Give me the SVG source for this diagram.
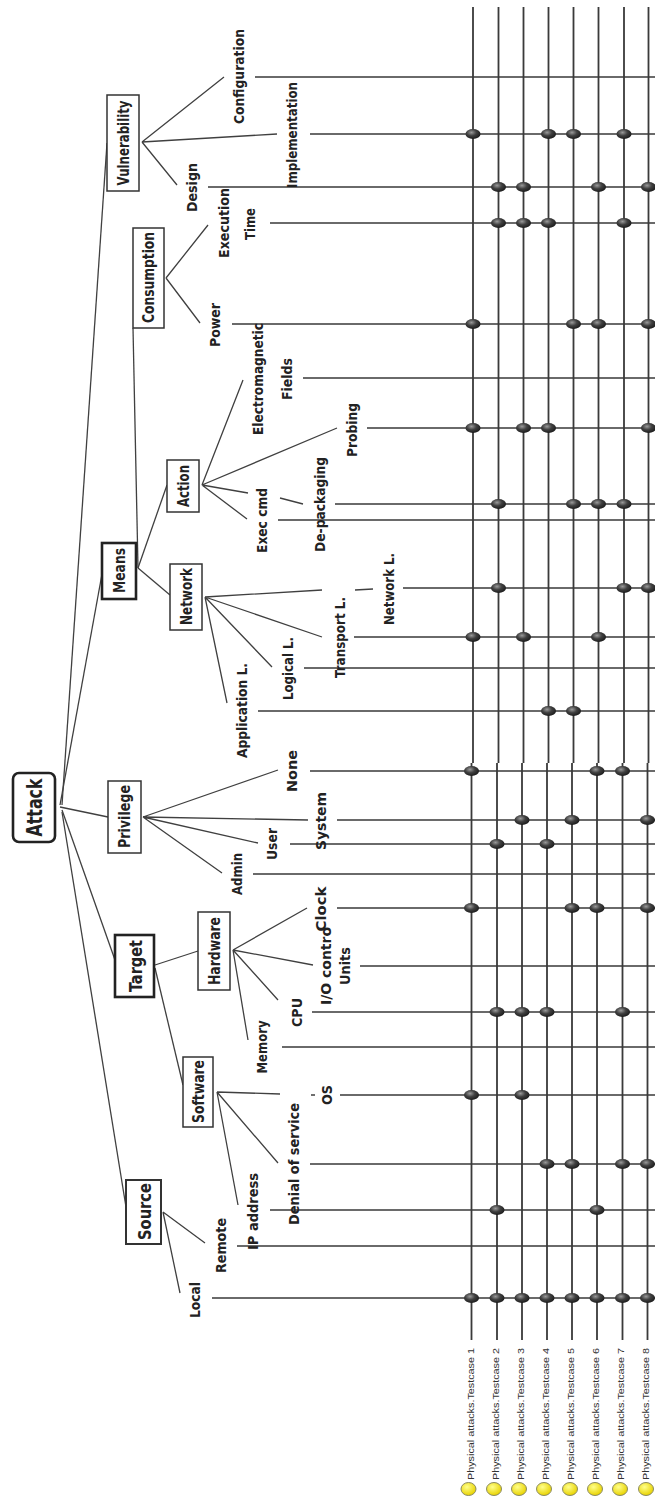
<svg xmlns="http://www.w3.org/2000/svg" width="655" height="1502" viewBox="0 0 655 1502">
<defs>
<radialGradient id="dotg" cx="40%" cy="35%" r="65%">
<stop offset="0" stop-color="#9a9a9a"/>
<stop offset="0.5" stop-color="#404040"/>
<stop offset="1" stop-color="#1c1c1c"/>
</radialGradient>
<radialGradient id="yel" cx="40%" cy="35%" r="65%">
<stop offset="0" stop-color="#ffff8a"/>
<stop offset="1" stop-color="#e8d200"/>
</radialGradient>
</defs>
<style>
.e{stroke:#404040;stroke-width:1.3;fill:none}
.g{stroke:#3a3a3a;stroke-width:1.3;fill:none}
.v{stroke:#3a3a3a;stroke-width:1.8;fill:none}
.box{fill:#fff;stroke:#333;stroke-width:1.5}
.bbox{fill:#fff;stroke:#222;stroke-width:2.6}
.nl{font-family:"DejaVu Sans Condensed","DejaVu Sans",sans-serif;font-stretch:condensed;font-weight:bold;font-size:15px;fill:#222;text-anchor:middle;dominant-baseline:central}
.big{font-size:18px}
.lf{font-family:"DejaVu Sans Condensed","DejaVu Sans",sans-serif;font-stretch:condensed;font-weight:bold;font-size:14px;fill:#222;text-anchor:middle;dominant-baseline:central}
.tc{font-family:"Liberation Sans",Arial,sans-serif;font-size:8.5px;fill:#333;text-anchor:start;dominant-baseline:central}
.dot{fill:url(#dotg)}
.yc{fill:url(#yel);stroke:#8a8a60;stroke-width:1}
</style>
<rect width="655" height="1502" fill="#fff"/>

<g id="grid">
<path class="v" d="M473,7V763M498.5,7V763M523.5,7V763M548.5,7V763M573.5,7V763M598.5,7V763M624,7V763M648.5,7V763"/>
<path class="v" d="M471.5,763V1340M497,763V1340M522,763V1340M547,763V1340M572,763V1340M597,763V1340M622.5,763V1340M647.5,763V1340"/>
</g>

<g id="connectors">
<!-- root edges -->
<path class="e" d="M62,805L107,143"/>
<path class="e" d="M60,805L102,574"/>
<path class="e" d="M60,807L108,817"/>
<path class="e" d="M62,810L115,960"/>
<path class="e" d="M62,812L126,1207"/>
<!-- internal -->
<path class="e" d="M133,328L138,568"/>
<path class="e" d="M138,568L167,485"/>
<path class="e" d="M138,568L170,595"/>
<path class="e" d="M155,965L198,951"/>
<path class="e" d="M155,968L183,1085"/>
<!-- Vulnerability -->
<path class="e" d="M142,142L224,77M142,142L277,134M142,142L177,185"/>
<!-- Consumption -->
<path class="e" d="M166,278L208,225M166,278L200,323"/>
<!-- Action -->
<path class="e" d="M202,485L243,380M202,485L337,428M202,485L248,493M280,498L303,504M202,485L247,519"/>
<!-- Network -->
<path class="e" d="M205,597L322,590M355,590L373,589M205,597L322,637M205,597L272,667M205,597L227,703"/>
<!-- Privilege -->
<path class="e" d="M143,817L278,770M143,817L308,820M143,817L258,843M143,817L222,873"/>
<!-- Hardware -->
<path class="e" d="M233,950L307,908M233,950L313,965M233,950L278,1000M233,950L248,1040"/>
<!-- Software -->
<path class="e" d="M217,1092L280,1094M311,1095L315,1095M217,1092L278,1163M217,1092L238,1205"/>
<!-- Source -->
<path class="e" d="M163,1212L205,1243M163,1212L180,1293"/>
<!-- leaf lines -->
<path class="g" d="M255,77H655M310,134H655M208,187H655M270,223H655M232,324H655M303,378H655M367,428H655M335,504H655M278,520H655M403,588H655M354,637H655M304,668H655M258,711H655"/>
<path class="g" d="M310,771H655M337,820H655M290,844H655M253,874H655M337,908H655M360,966H655M312,1012H655M282,1047H655M340,1095H655M310,1164H655M270,1210H655M237,1246H655M212,1298H655"/>
</g>

<g id="attack">
<rect x="13" y="773" width="42" height="69" rx="6" class="bbox"/>
<text class="nl" style="font-size:21px" transform="translate(35,807.5) rotate(-90)" textLength="58" lengthAdjust="spacingAndGlyphs">Attack</text>
</g>
<g id="vulnerability">
<rect x="107" y="95" width="32" height="96" class="box"/>
<text class="nl" transform="translate(123.5,143) rotate(-90)" textLength="85" lengthAdjust="spacingAndGlyphs">Vulnerability</text>
</g>
<g id="consumption">
<rect x="133" y="228" width="31" height="100" class="box"/>
<text class="nl" transform="translate(149,277.5) rotate(-90)" textLength="91" lengthAdjust="spacingAndGlyphs">Consumption</text>
</g>
<g id="means">
<rect x="102" y="543" width="34" height="56" class="bbox"/>
<text class="nl" style="font-size:16px" transform="translate(119.5,570.5) rotate(-90)" textLength="45" lengthAdjust="spacingAndGlyphs">Means</text>
</g>
<g id="action">
<rect x="167" y="460" width="32" height="52" class="box"/>
<text class="nl" transform="translate(183.5,486) rotate(-90)" textLength="42" lengthAdjust="spacingAndGlyphs">Action</text>
</g>
<g id="network">
<rect x="170" y="564" width="32" height="66" class="box"/>
<text class="nl" transform="translate(186.5,596.5) rotate(-90)" textLength="57" lengthAdjust="spacingAndGlyphs">Network</text>
</g>
<g id="privilege">
<rect x="108" y="781" width="33" height="72" class="box"/>
<text class="nl" transform="translate(125,816.5) rotate(-90)" textLength="63" lengthAdjust="spacingAndGlyphs">Privilege</text>
</g>
<g id="target">
<rect x="115" y="935" width="39" height="62" class="bbox"/>
<text class="nl big" transform="translate(135,966) rotate(-90)" textLength="52" lengthAdjust="spacingAndGlyphs">Target</text>
</g>
<g id="hardware">
<rect x="198" y="912" width="32" height="78" class="box"/>
<text class="nl" transform="translate(214.5,951) rotate(-90)" textLength="68" lengthAdjust="spacingAndGlyphs">Hardware</text>
</g>
<g id="software">
<rect x="183" y="1057" width="30" height="70" class="box"/>
<text class="nl" transform="translate(198.5,1091.5) rotate(-90)" textLength="63" lengthAdjust="spacingAndGlyphs">Software</text>
</g>
<g id="source">
<rect x="126" y="1180" width="35" height="64" class="box" style="stroke-width:2"/>
<text class="nl big" transform="translate(144,1211.5) rotate(-90)" textLength="57" lengthAdjust="spacingAndGlyphs">Source</text>
</g>

<g id="leaf-configuration"><text class="lf" transform="translate(239,76.5) rotate(-90)" textLength="95" lengthAdjust="spacingAndGlyphs">Configuration</text></g>
<g id="leaf-implementation"><text class="lf" transform="translate(291.5,135) rotate(-90)" textLength="106" lengthAdjust="spacingAndGlyphs">Implementation</text></g>
<g id="leaf-design"><text class="lf" transform="translate(192,187.5) rotate(-90)" textLength="49" lengthAdjust="spacingAndGlyphs">Design</text></g>
<g id="leaf-execution-time">
<text class="lf" transform="translate(223.5,223) rotate(-90)" textLength="70" lengthAdjust="spacingAndGlyphs">Execution</text>
<text class="lf" transform="translate(250,224) rotate(-90)" textLength="32" lengthAdjust="spacingAndGlyphs">Time</text>
</g>
<g id="leaf-power"><text class="lf" transform="translate(215,325) rotate(-90)" textLength="44" lengthAdjust="spacingAndGlyphs">Power</text></g>
<g id="leaf-em-fields">
<text class="lf" transform="translate(257.5,379) rotate(-90)" textLength="112" lengthAdjust="spacingAndGlyphs">Electromagnetic</text>
<text class="lf" transform="translate(286.5,379) rotate(-90)" textLength="42" lengthAdjust="spacingAndGlyphs">Fields</text>
</g>
<g id="leaf-probing"><text class="lf" transform="translate(352,430) rotate(-90)" textLength="54" lengthAdjust="spacingAndGlyphs">Probing</text></g>
<g id="leaf-exec-cmd"><text class="lf" transform="translate(261.5,520.5) rotate(-90)" textLength="65" lengthAdjust="spacingAndGlyphs">Exec cmd</text></g>
<g id="leaf-depackaging"><text class="lf" transform="translate(319.5,504.5) rotate(-90)" textLength="95" lengthAdjust="spacingAndGlyphs">De-packaging</text></g>
<g id="leaf-network-l"><text class="lf" transform="translate(388.5,589) rotate(-90)" textLength="72" lengthAdjust="spacingAndGlyphs">Network L.</text></g>
<g id="leaf-transport-l"><text class="lf" transform="translate(339.5,637.5) rotate(-90)" textLength="81" lengthAdjust="spacingAndGlyphs">Transport L.</text></g>
<g id="leaf-logical-l"><text class="lf" transform="translate(287.5,668.5) rotate(-90)" textLength="63" lengthAdjust="spacingAndGlyphs">Logical L.</text></g>
<g id="leaf-application-l"><text class="lf" transform="translate(241.5,710.5) rotate(-90)" textLength="95" lengthAdjust="spacingAndGlyphs">Application L.</text></g>
<g id="leaf-none"><text class="lf" transform="translate(292,771) rotate(-90)" textLength="42" lengthAdjust="spacingAndGlyphs">None</text></g>
<g id="leaf-system"><text class="lf" transform="translate(321,821) rotate(-90)" textLength="58" lengthAdjust="spacingAndGlyphs">System</text></g>
<g id="leaf-user"><text class="lf" transform="translate(271.5,844) rotate(-90)" textLength="32" lengthAdjust="spacingAndGlyphs">User</text></g>
<g id="leaf-admin"><text class="lf" transform="translate(236.5,874) rotate(-90)" textLength="42" lengthAdjust="spacingAndGlyphs">Admin</text></g>
<g id="leaf-clock"><text class="lf" transform="translate(321,909) rotate(-90)" textLength="45" lengthAdjust="spacingAndGlyphs">Clock</text></g>
<g id="leaf-io-units">
<text class="lf" transform="translate(325.5,966) rotate(-90)" textLength="78" lengthAdjust="spacingAndGlyphs">I/O contro</text>
<text class="lf" transform="translate(344.5,966) rotate(-90)" textLength="38" lengthAdjust="spacingAndGlyphs">Units</text>
</g>
<g id="leaf-cpu"><text class="lf" transform="translate(296.5,1012.5) rotate(-90)" textLength="29" lengthAdjust="spacingAndGlyphs">CPU</text></g>
<g id="leaf-memory"><text class="lf" transform="translate(261.5,1047) rotate(-90)" textLength="53" lengthAdjust="spacingAndGlyphs">Memory</text></g>
<g id="leaf-os"><text class="lf" transform="translate(326.5,1095) rotate(-90)" textLength="20" lengthAdjust="spacingAndGlyphs">OS</text></g>
<g id="leaf-denial"><text class="lf" transform="translate(293.5,1164) rotate(-90)" textLength="122" lengthAdjust="spacingAndGlyphs">Denial of service</text></g>
<g id="leaf-ip"><text class="lf" transform="translate(252.5,1211.5) rotate(-90)" textLength="77" lengthAdjust="spacingAndGlyphs">IP address</text></g>
<g id="leaf-remote"><text class="lf" transform="translate(220.5,1245.5) rotate(-90)" textLength="55" lengthAdjust="spacingAndGlyphs">Remote</text></g>
<g id="leaf-local"><text class="lf" transform="translate(194.5,1300) rotate(-90)" textLength="36" lengthAdjust="spacingAndGlyphs">Local</text></g>

<g id="marks">
<ellipse class="dot" cx="473" cy="134" rx="7.5" ry="5"/><ellipse class="dot" cx="548.5" cy="134" rx="7.5" ry="5"/><ellipse class="dot" cx="573.5" cy="134" rx="7.5" ry="5"/><ellipse class="dot" cx="624" cy="134" rx="7.5" ry="5"/>
<ellipse class="dot" cx="498.5" cy="187" rx="7.5" ry="5"/><ellipse class="dot" cx="523.5" cy="187" rx="7.5" ry="5"/><ellipse class="dot" cx="598.5" cy="187" rx="7.5" ry="5"/><ellipse class="dot" cx="648.5" cy="187" rx="7.5" ry="5"/>
<ellipse class="dot" cx="498.5" cy="223" rx="7.5" ry="5"/><ellipse class="dot" cx="523.5" cy="223" rx="7.5" ry="5"/><ellipse class="dot" cx="548.5" cy="223" rx="7.5" ry="5"/><ellipse class="dot" cx="624" cy="223" rx="7.5" ry="5"/>
<ellipse class="dot" cx="473" cy="324" rx="7.5" ry="5"/><ellipse class="dot" cx="573.5" cy="324" rx="7.5" ry="5"/><ellipse class="dot" cx="598.5" cy="324" rx="7.5" ry="5"/><ellipse class="dot" cx="648.5" cy="324" rx="7.5" ry="5"/>
<ellipse class="dot" cx="473" cy="428" rx="7.5" ry="5"/><ellipse class="dot" cx="523.5" cy="428" rx="7.5" ry="5"/><ellipse class="dot" cx="548.5" cy="428" rx="7.5" ry="5"/><ellipse class="dot" cx="648.5" cy="428" rx="7.5" ry="5"/>
<ellipse class="dot" cx="498.5" cy="504" rx="7.5" ry="5"/><ellipse class="dot" cx="573.5" cy="504" rx="7.5" ry="5"/><ellipse class="dot" cx="598.5" cy="504" rx="7.5" ry="5"/><ellipse class="dot" cx="624" cy="504" rx="7.5" ry="5"/>
<ellipse class="dot" cx="498.5" cy="588" rx="7.5" ry="5"/><ellipse class="dot" cx="624" cy="588" rx="7.5" ry="5"/><ellipse class="dot" cx="648.5" cy="588" rx="7.5" ry="5"/>
<ellipse class="dot" cx="473" cy="637" rx="7.5" ry="5"/><ellipse class="dot" cx="523.5" cy="637" rx="7.5" ry="5"/><ellipse class="dot" cx="598.5" cy="637" rx="7.5" ry="5"/>
<ellipse class="dot" cx="548.5" cy="711" rx="7.5" ry="5"/><ellipse class="dot" cx="573.5" cy="711" rx="7.5" ry="5"/>
<ellipse class="dot" cx="471.5" cy="771" rx="7.5" ry="5"/><ellipse class="dot" cx="597" cy="771" rx="7.5" ry="5"/><ellipse class="dot" cx="622.5" cy="771" rx="7.5" ry="5"/>
<ellipse class="dot" cx="522" cy="820" rx="7.5" ry="5"/><ellipse class="dot" cx="572" cy="820" rx="7.5" ry="5"/><ellipse class="dot" cx="647.5" cy="820" rx="7.5" ry="5"/>
<ellipse class="dot" cx="497" cy="844" rx="7.5" ry="5"/><ellipse class="dot" cx="547" cy="844" rx="7.5" ry="5"/>
<ellipse class="dot" cx="471.5" cy="908" rx="7.5" ry="5"/><ellipse class="dot" cx="572" cy="908" rx="7.5" ry="5"/><ellipse class="dot" cx="597" cy="908" rx="7.5" ry="5"/><ellipse class="dot" cx="647.5" cy="908" rx="7.5" ry="5"/>
<ellipse class="dot" cx="497" cy="1012" rx="7.5" ry="5"/><ellipse class="dot" cx="522" cy="1012" rx="7.5" ry="5"/><ellipse class="dot" cx="547" cy="1012" rx="7.5" ry="5"/><ellipse class="dot" cx="622.5" cy="1012" rx="7.5" ry="5"/>
<ellipse class="dot" cx="471.5" cy="1095" rx="7.5" ry="5"/><ellipse class="dot" cx="522" cy="1095" rx="7.5" ry="5"/>
<ellipse class="dot" cx="547" cy="1164" rx="7.5" ry="5"/><ellipse class="dot" cx="572" cy="1164" rx="7.5" ry="5"/><ellipse class="dot" cx="622.5" cy="1164" rx="7.5" ry="5"/><ellipse class="dot" cx="647.5" cy="1164" rx="7.5" ry="5"/>
<ellipse class="dot" cx="497" cy="1210" rx="7.5" ry="5"/><ellipse class="dot" cx="597" cy="1210" rx="7.5" ry="5"/>
<ellipse class="dot" cx="471.5" cy="1298" rx="7.5" ry="5"/><ellipse class="dot" cx="497" cy="1298" rx="7.5" ry="5"/><ellipse class="dot" cx="522" cy="1298" rx="7.5" ry="5"/><ellipse class="dot" cx="547" cy="1298" rx="7.5" ry="5"/><ellipse class="dot" cx="572" cy="1298" rx="7.5" ry="5"/><ellipse class="dot" cx="597" cy="1298" rx="7.5" ry="5"/><ellipse class="dot" cx="622.5" cy="1298" rx="7.5" ry="5"/><ellipse class="dot" cx="647.5" cy="1298" rx="7.5" ry="5"/>
</g>

<g id="testcase-1"><ellipse class="yc" cx="468.5" cy="1489" rx="7.5" ry="6.5"/><text class="tc" transform="translate(470.5,1480) rotate(-90)" textLength="132" lengthAdjust="spacingAndGlyphs">Physical attacks.Testcase 1</text></g>
<g id="testcase-2"><ellipse class="yc" cx="494" cy="1489" rx="7.5" ry="6.5"/><text class="tc" transform="translate(495.5,1480) rotate(-90)" textLength="132" lengthAdjust="spacingAndGlyphs">Physical attacks.Testcase 2</text></g>
<g id="testcase-3"><ellipse class="yc" cx="519" cy="1489" rx="7.5" ry="6.5"/><text class="tc" transform="translate(520.5,1480) rotate(-90)" textLength="132" lengthAdjust="spacingAndGlyphs">Physical attacks.Testcase 3</text></g>
<g id="testcase-4"><ellipse class="yc" cx="544" cy="1489" rx="7.5" ry="6.5"/><text class="tc" transform="translate(545.5,1480) rotate(-90)" textLength="132" lengthAdjust="spacingAndGlyphs">Physical attacks.Testcase 4</text></g>
<g id="testcase-5"><ellipse class="yc" cx="570" cy="1489" rx="7.5" ry="6.5"/><text class="tc" transform="translate(570.5,1480) rotate(-90)" textLength="132" lengthAdjust="spacingAndGlyphs">Physical attacks.Testcase 5</text></g>
<g id="testcase-6"><ellipse class="yc" cx="595" cy="1489" rx="7.5" ry="6.5"/><text class="tc" transform="translate(595.5,1480) rotate(-90)" textLength="132" lengthAdjust="spacingAndGlyphs">Physical attacks.Testcase 6</text></g>
<g id="testcase-7"><ellipse class="yc" cx="620" cy="1489" rx="7.5" ry="6.5"/><text class="tc" transform="translate(620.5,1480) rotate(-90)" textLength="132" lengthAdjust="spacingAndGlyphs">Physical attacks.Testcase 7</text></g>
<g id="testcase-8"><ellipse class="yc" cx="646" cy="1489" rx="7.5" ry="6.5"/><text class="tc" transform="translate(645.5,1480) rotate(-90)" textLength="132" lengthAdjust="spacingAndGlyphs">Physical attacks.Testcase 8</text></g>
</svg>
